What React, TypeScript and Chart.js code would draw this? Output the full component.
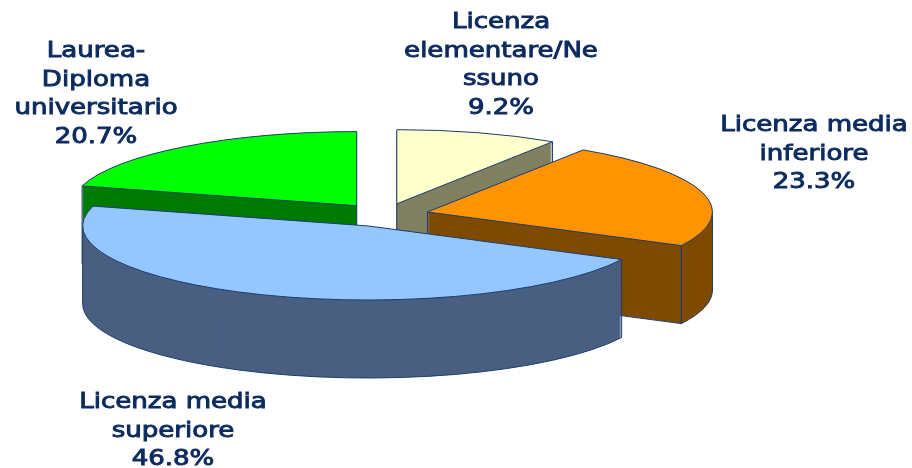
import { useEffect, useRef } from "react";
import { Chart, registerables } from "chart.js";

Chart.register(...registerables);

const categories = ["Licenza elementare/Nessuno", "Licenza media inferiore", "Licenza media superiore", "Laurea-Diploma universitario"];
const shares = [9.2, 23.3, 46.8, 20.7];
const topColors = ["#ffffcc", "#ff9400", "#94c7ff", "#00ff00"];
const wallColors = ["#808062", "#7f4a00", "#4a5f80", "#007a00"];
const labelLines = [
  ["Licenza", "elementare/Ne", "ssuno", "9.2%"],
  ["Licenza media", "inferiore", "23.3%"],
  ["Licenza media", "superiore", "46.8%"],
  ["Laurea-", "Diploma", "universitario", "20.7%"],
];
const labelCenters = [501, 814, 173, 96];
const labelFirstBaselines = [28, 131, 408, 57];

const TILT = 0.26;
const DEPTH = 78;
const EXPLODE = 45;
const LINE = "#1b3f73";
const TEXT = "#0c2c60";

function apex(chart: any, arc: any) {
  const a = chart.chartArea;
  const cy = (a.top + a.bottom) / 2;
  return { x: arc.x, y: cy + (arc.y - cy) * TILT };
}

function sectorPath(chart: any, arc: any, dy: number) {
  const ctx = chart.ctx;
  const p = apex(chart, arc);
  ctx.save();
  ctx.translate(p.x, p.y + dy);
  ctx.scale(1, TILT);
  ctx.beginPath();
  ctx.moveTo(0, 0);
  ctx.arc(0, 0, arc.outerRadius, arc.startAngle, arc.endAngle);
  ctx.closePath();
  ctx.restore();
}

function wallOutline(chart: any, arc: any) {
  const ctx = chart.ctx;
  const p = apex(chart, arc);
  const R = arc.outerRadius;
  const px = (a: number) => p.x + Math.cos(a) * R;
  const py = (a: number) => p.y + Math.sin(a) * R * TILT;
  const radial = (a: number) => {
    ctx.beginPath();
    ctx.moveTo(p.x, p.y);
    ctx.lineTo(p.x, p.y + DEPTH);
    ctx.lineTo(px(a), py(a) + DEPTH);
    ctx.lineTo(px(a), py(a));
    ctx.stroke();
  };
  if (Math.sin(arc.startAngle - Math.PI / 2) > 0.01) radial(arc.startAngle);
  if (Math.sin(arc.endAngle + Math.PI / 2) > 0.01) radial(arc.endAngle);
  const twoPi = 2 * Math.PI;
  const s = ((arc.startAngle % twoPi) + twoPi) % twoPi;
  const e = s + (arc.endAngle - arc.startAngle);
  const spans = s < Math.PI ? [[s, Math.min(e, Math.PI)]] : e > twoPi ? [[0, Math.min(e - twoPi, Math.PI)]] : [];
  for (const [a0, a1] of spans) {
    ctx.beginPath();
    ctx.moveTo(px(a0), py(a0));
    ctx.save();
    ctx.translate(p.x, p.y + DEPTH);
    ctx.scale(1, TILT);
    ctx.arc(0, 0, R, a0, a1);
    ctx.restore();
    ctx.lineTo(px(a1), py(a1));
    ctx.stroke();
  }
}

const pie3d = {
  id: "pie3d",
  afterDatasetsUpdate(chart: any) {
    const arcs = chart.getDatasetMeta(0).data;
    for (const arc of arcs) {
      const mid = (arc.startAngle + arc.endAngle) / 2;
      arc.x += Math.cos(mid) * EXPLODE;
      arc.y += Math.sin(mid) * EXPLODE;
    }
  },
  beforeDatasetsDraw(chart: any) {
    const ctx = chart.ctx;
    const arcs = chart.getDatasetMeta(0).data;
    const order = [3, 0, 1, 2];
    ctx.save();
    ctx.lineWidth = 1;
    ctx.strokeStyle = LINE;
    for (const i of order) {
      ctx.fillStyle = wallColors[i];
      for (let dy = DEPTH; dy >= 0; dy--) {
        sectorPath(chart, arcs[i], dy);
        ctx.fill();
      }
      wallOutline(chart, arcs[i]);
    }
    ctx.restore();
  },
  beforeDatasetDraw(chart: any) {
    const ctx = chart.ctx;
    const a = chart.chartArea;
    const cy = (a.top + a.bottom) / 2;
    ctx.save();
    ctx.translate(0, cy);
    ctx.scale(1, TILT);
    ctx.translate(0, -cy);
  },
  afterDatasetDraw(chart: any) {
    chart.ctx.restore();
  },
  afterDatasetsDraw(chart: any) {
    const ctx = chart.ctx;
    const arcs = chart.getDatasetMeta(0).data;
    ctx.save();
    ctx.lineWidth = 1;
    ctx.strokeStyle = LINE;
    for (const arc of arcs) {
      sectorPath(chart, arc, 0);
      ctx.stroke();
    }
    ctx.restore();
  },
  afterDraw(chart: any) {
    const ctx = chart.ctx;
    const stretch = 1.24;
    ctx.save();
    ctx.fillStyle = TEXT;
    ctx.strokeStyle = TEXT;
    ctx.lineWidth = 0.9;
    ctx.textAlign = "center";
    ctx.textBaseline = "alphabetic";
    ctx.font = "21px 'DejaVu Sans'";
    ctx.scale(stretch, 1);
    labelLines.forEach((lines, i) => {
      lines.forEach((line, j) => {
        const y = labelFirstBaselines[i] + j * 28.6;
        ctx.fillText(line, labelCenters[i] / stretch, y);
        ctx.strokeText(line, labelCenters[i] / stretch, y);
      });
    });
    ctx.restore();
  },
};

export default function App() {
  const ref = useRef<HTMLCanvasElement>(null);
  useEffect(() => {
    document.body.style.margin = "0";
    const chart = new Chart(ref.current as HTMLCanvasElement, {
      type: "pie",
      data: {
        labels: categories,
        datasets: [{ data: shares, backgroundColor: topColors, borderWidth: 0, clip: false } as any],
      },
      options: {
        responsive: false,
        animation: false,
        radius: 285,
        layout: { padding: { right: 144, bottom: 38 } },
        plugins: { legend: { display: false }, tooltip: { enabled: false } },
      } as any,
      plugins: [pie3d],
    });
    return () => chart.destroy();
  }, []);
  return <canvas ref={ref} width={912} height={468} style={{ display: "block" }} />;
}
